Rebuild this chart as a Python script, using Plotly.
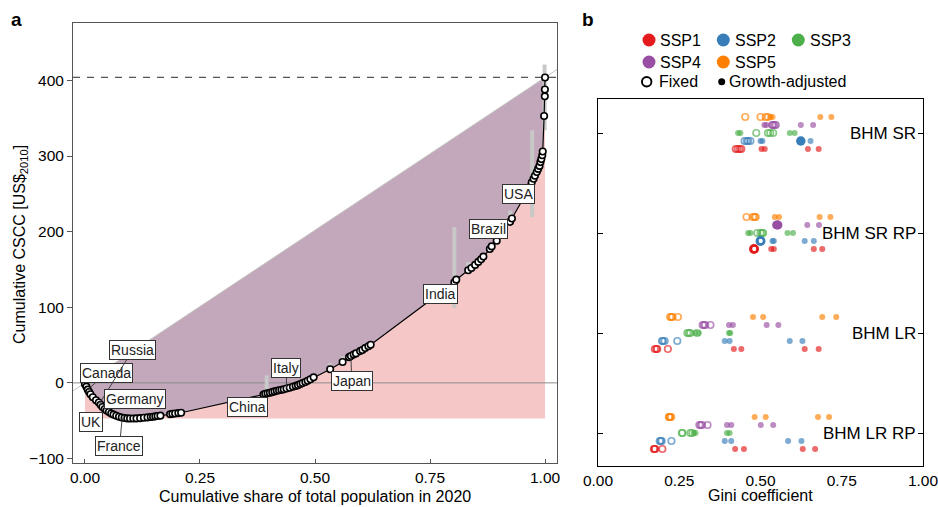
import numpy as np
import plotly.graph_objects as go

FONT = "Liberation Sans, Arial, Helvetica, sans-serif"
W, H = 938, 507

# ---------------- Panel a data ----------------
pop_share = [0.000, 0.003, 0.006, 0.009, 0.012, 0.017, 0.024, 0.030, 0.034, 0.038,
             0.043, 0.047, 0.052, 0.057, 0.062, 0.068, 0.074, 0.080, 0.086, 0.092,
             0.098, 0.105, 0.112, 0.120, 0.128, 0.136, 0.143, 0.148, 0.153, 0.158,
             0.164, 0.185, 0.190, 0.196, 0.203, 0.209,
             0.388, 0.392, 0.397, 0.402, 0.407, 0.412, 0.417, 0.422, 0.427, 0.432,
             0.438, 0.445, 0.452, 0.458, 0.463, 0.468, 0.473, 0.479, 0.484, 0.490,
             0.497, 0.533, 0.560, 0.574, 0.578, 0.584, 0.589, 0.598, 0.603, 0.609,
             0.616, 0.621,
             0.803, 0.807, 0.833, 0.840, 0.848, 0.855, 0.861, 0.866, 0.880, 0.884,
             0.895, 0.924, 0.928, 0.967, 0.971, 0.975, 0.978, 0.982, 0.985, 0.988,
             0.990, 0.992, 0.994, 0.995, 0.998, 0.9995, 0.9997, 1.000]
cum_cscc = [-2, -5, -9, -12, -15, -19, -23, -26, -29, -32,
            -34.5, -36.5, -38.5, -40.5, -42, -43.5, -44.8, -45.8, -46.5, -47,
            -47.2, -47.2, -47, -46.7, -46.2, -45.7, -45.2, -44.8, -44.3, -43.9,
            -43.4, -41.5, -41, -40.5, -40, -39.5,
            -15.5, -14.5, -13.8, -13, -12.2, -11.3, -10.5, -9.8, -9.2, -8.6,
            -7.5, -6.5, -5.2, -4, -3, -1.5, -0.3, 1.2, 2.7, 4.8,
            7.3, 18, 27.5, 34, 35.5, 37.5, 39, 42, 43.5, 46,
            48.5, 50.5,
            133, 136.5, 149, 152, 156, 160, 163.5, 167, 177, 180.5,
            188, 213, 217.5, 259, 265, 270, 274, 279, 283, 287,
            292, 296, 301, 306, 353, 379, 388, 404]

# uncertainty bars (grey)
unc_x = [0.395, 0.533, 0.560, 0.803, 0.833, 0.924, 0.972, 0.999]
unc_lo = [-16, 17, 26, 99, 145, 211, 219, 334]
unc_hi = [10, 26, 35, 206, 160, 228, 334, 421]

# country labels: label-box position and pointed position (None = no leader)
lab_names = ["Canada", "Russia", "Germany", "UK", "France", "China", "Italy", "Japan", "India", "Brazil", "USA"]
lab_box_x = [0.046, 0.104, 0.108, 0.014, 0.075, 0.354, 0.438, 0.580, 0.772, 0.877, 0.942]
lab_box_y = [12.8, 43.6, -21, -52.4, -84, -31.7, 19.4, 2.6, 117, 204, 250]
lab_pt_x = [0.006, 0.032, None, None, 0.081, None, 0.438, 0.578, None, None, None]
lab_pt_y = [-9, -27, None, None, -46, None, -7, 35, None, None, None]

# ---------------- Panel b data ----------------
models = ["BHM SR", "BHM SR RP", "BHM LR", "BHM LR RP"]
model_pos = [4, 3, 2, 1]
ssps = ["SSP1", "SSP2", "SSP3", "SSP4", "SSP5"]
ssp_colors = ["#E41A1C", "#377EB8", "#4DAF4A", "#984EA3", "#FF7F00"]
ssp_offset = [-0.16, -0.08, 0.0, 0.08, 0.16]

# Gini values, per model -> per SSP (SSP1..SSP5)
gini_fixed_sr = [[0.424, 0.430, 0.436, 0.441], [0.451, 0.458, 0.462, 0.469],
                 [0.487, 0.523, 0.530, 0.539], [0.536, 0.539, 0.543, 0.547],
                 [0.453, 0.500, 0.516, 0.523]]
gini_growth_sr = [[0.503, 0.513, 0.646, 0.679], [0.500, 0.506, 0.624, 0.654],
                  [0.431, 0.438, 0.590, 0.605], [0.512, 0.518, 0.624, 0.662],
                  [0.530, 0.537, 0.684, 0.718]]
gini_fixed_srrp = [[0.480, 0.480, 0.481, 0.482], [0.500, 0.500, 0.501, 0.502],
                   [0.490, 0.500, 0.505, 0.508], [0.548, 0.550, 0.552, 0.555],
                   [0.457, 0.477, 0.482, 0.485]]
gini_growth_srrp = [[0.533, 0.541, 0.664, 0.690], [0.537, 0.541, 0.636, 0.664],
                    [0.462, 0.469, 0.583, 0.600], [0.548, 0.556, 0.644, 0.680],
                    [0.544, 0.557, 0.682, 0.715]]
gini_fixed_lr = [[0.175, 0.180, 0.182, 0.215], [0.197, 0.200, 0.205, 0.244],
                 [0.275, 0.280, 0.284, 0.305], [0.322, 0.326, 0.330, 0.346],
                 [0.222, 0.226, 0.229, 0.246]]
gini_growth_lr = [[0.418, 0.441, 0.636, 0.679], [0.390, 0.405, 0.590, 0.629],
                  [0.300, 0.310, 0.403, 0.407], [0.403, 0.415, 0.519, 0.555],
                  [0.477, 0.508, 0.690, 0.733]]
gini_fixed_lrrp = [[0.172, 0.174, 0.176, 0.198], [0.190, 0.193, 0.196, 0.226],
                   [0.258, 0.260, 0.284, 0.290], [0.312, 0.316, 0.320, 0.337],
                   [0.218, 0.220, 0.222, 0.225]]
gini_growth_lrrp = [[0.422, 0.449, 0.630, 0.668], [0.390, 0.410, 0.585, 0.626],
                    [0.294, 0.300, 0.397, 0.405], [0.397, 0.410, 0.501, 0.539],
                    [0.482, 0.516, 0.677, 0.711]]
gini_fixed = [gini_fixed_sr, gini_fixed_srrp, gini_fixed_lr, gini_fixed_lrrp]
gini_growth = [gini_growth_sr, gini_growth_srrp, gini_growth_lr, gini_growth_lrrp]

# highlighted (reference) estimates
hl_model = [0, 1, 1, 1]
hl_ssp = [1, 3, 1, 0]
hl_value = [0.624, 0.552, 0.500, 0.480]
hl_growth = [True, True, False, False]

# ---------------- Build figure ----------------
fig = go.Figure()
xa = np.array(pop_share)
ya = np.array(cum_cscc, dtype=float)
total = ya[-1]
floor = ya.min()
XR = [-0.026, 1.026]
YR = [-106, 476]

common = dict(xaxis="x", yaxis="y", showlegend=False, hoverinfo="skip")
fig.add_trace(go.Scatter(x=xa, y=np.full_like(ya, floor), mode="lines",
                         line=dict(width=0, color="rgba(0,0,0,0)"), **common))
fig.add_trace(go.Scatter(x=xa, y=ya, mode="lines", fill="tonexty",
                         fillcolor="rgb(245,199,199)", line=dict(width=0, color="rgba(0,0,0,0)"), **common))
fig.add_trace(go.Scatter(x=xa, y=total * xa, mode="lines", fill="tonexty",
                         fillcolor="rgb(195,168,188)", line=dict(width=0, color="rgba(0,0,0,0)"), **common))
# equality line
fig.add_trace(go.Scatter(x=XR, y=[total * XR[0], total * XR[1]], mode="lines",
                         line=dict(width=1, color="rgb(195,195,195)"), **common))
# zero line
fig.add_trace(go.Scatter(x=XR, y=[0, 0], mode="lines",
                         line=dict(width=1, color="rgb(140,140,140)"), **common))
# dashed total line
fig.add_trace(go.Scatter(x=XR, y=[total, total], mode="lines",
                         line=dict(width=1.3, color="rgb(85,85,85)", dash="7px,7px"), **common))
# grey uncertainty bars
bx, by = [], []
for x0, lo, hi in zip(unc_x, unc_lo, unc_hi):
    bx += [x0, x0, None]
    by += [lo, hi, None]
fig.add_trace(go.Scatter(x=bx, y=by, mode="lines",
                         line=dict(width=4, color="rgb(200,200,200)"), **common))
# curve
fig.add_trace(go.Scatter(x=xa, y=ya, mode="lines+markers",
                         line=dict(width=1.2, color="black"),
                         marker=dict(size=6.5, color="white", line=dict(width=1.6, color="black")),
                         **common))

annotations = []
for name, bxp, byp, px, py in zip(lab_names, lab_box_x, lab_box_y, lab_pt_x, lab_pt_y):
    base = dict(text=name, font=dict(family=FONT, size=14, color="#222"),
                bgcolor="white", bordercolor="#333", borderwidth=1, borderpad=1,
                xref="x", yref="y")
    if px is None:
        annotations.append(dict(x=bxp, y=byp, showarrow=False, **base))
    else:
        annotations.append(dict(x=px, y=py, ax=bxp, ay=byp, axref="x", ayref="y",
                                showarrow=True, arrowhead=0, arrowwidth=0.9,
                                arrowcolor="#333", standoff=0, **base))

# ---------------- Panel b ----------------
for mi, mpos in enumerate(model_pos):
    for si in range(5):
        yv = mpos + ssp_offset[si]
        fv = gini_fixed[mi][si]
        gv = gini_growth[mi][si]
        fig.add_trace(go.Scatter(x=fv, y=[yv] * len(fv), mode="markers", xaxis="x2", yaxis="y2",
                                 showlegend=False, hoverinfo="skip",
                                 marker=dict(symbol="circle-open", size=6.5, color=ssp_colors[si],
                                             opacity=0.65, line=dict(width=1.7))))
        fig.add_trace(go.Scatter(x=gv, y=[yv] * len(gv), mode="markers", xaxis="x2", yaxis="y2",
                                 showlegend=False, hoverinfo="skip",
                                 marker=dict(symbol="circle", size=6, color=ssp_colors[si],
                                             opacity=0.65, line=dict(width=0))))
for mi, si, v, g in zip(hl_model, hl_ssp, hl_value, hl_growth):
    yv = model_pos[mi] + ssp_offset[si]
    if g:
        mk = dict(symbol="circle", size=9.5, color=ssp_colors[si], line=dict(width=0))
    else:
        mk = dict(symbol="circle-open", size=7.5, color=ssp_colors[si], line=dict(width=2.4))
    fig.add_trace(go.Scatter(x=[v], y=[yv], mode="markers", xaxis="x2", yaxis="y2",
                             showlegend=False, hoverinfo="skip", marker=mk))

# model labels inside panel b, right-aligned against the right-hand ticks
for m, mp in zip(models, model_pos):
    annotations.append(dict(text=m, x=0.985, y=mp, xref="x2", yref="y2", showarrow=False,
                            xanchor="right", yanchor="middle",
                            font=dict(family=FONT, size=17, color="black")))

# ---------------- Manual legend (pixel overlay axis) ----------------
leg_x = [649, 723.3, 798.3, 649, 723.3]
leg_y = [40, 40, 40, 62, 62]
fig.add_trace(go.Scatter(x=leg_x, y=leg_y, mode="markers", xaxis="x3", yaxis="y3",
                         showlegend=False, hoverinfo="skip", cliponaxis=False,
                         marker=dict(size=13, color=ssp_colors)))
fig.add_trace(go.Scatter(x=[646.7], y=[81.7], mode="markers", xaxis="x3", yaxis="y3",
                         showlegend=False, hoverinfo="skip", cliponaxis=False,
                         marker=dict(symbol="circle-open", size=9.5, color="black", line=dict(width=1.9))))
fig.add_trace(go.Scatter(x=[721.7], y=[81.7], mode="markers", xaxis="x3", yaxis="y3",
                         showlegend=False, hoverinfo="skip", cliponaxis=False,
                         marker=dict(symbol="circle", size=7, color="black")))
for t, x0, y0 in zip(ssps + ["Fixed", "Growth-adjusted"],
                     [658, 732.5, 807.5, 658, 732.5, 657, 727],
                     [40, 40, 40, 62, 62, 81.7, 81.7]):
    annotations.append(dict(text=t, x=x0, y=y0, xref="x3", yref="y3", showarrow=False,
                            xanchor="left", yanchor="middle",
                            font=dict(family=FONT, size=16, color="black")))

# titles / panel letters
annotations += [
    dict(text="<b>a</b>", x=16.5, y=19, xref="x3", yref="y3", showarrow=False,
         font=dict(family=FONT, size=19, color="black")),
    dict(text="<b>b</b>", x=588, y=19, xref="x3", yref="y3", showarrow=False,
         font=dict(family=FONT, size=19, color="black")),
    dict(text="Cumulative CSCC [US$<sub>2010</sub>]", x=20, y=245, xref="x3", yref="y3",
         showarrow=False, textangle=-90, font=dict(family=FONT, size=16, color="black")),
    dict(text="Cumulative share of total population in 2020", x=315, y=496, xref="x3", yref="y3",
         showarrow=False, font=dict(family=FONT, size=16, color="black")),
    dict(text="Gini coefficient", x=760.6, y=495, xref="x3", yref="y3",
         showarrow=False, font=dict(family=FONT, size=16, color="black")),
]

tickfont = dict(family=FONT, size=15.5, color="black")
fig.update_layout(
    width=W, height=H, margin=dict(l=0, r=0, t=0, b=0, autoexpand=False),
    paper_bgcolor="white", plot_bgcolor="rgba(0,0,0,0)",
    font=dict(family=FONT, color="black"),
    annotations=annotations,
    xaxis=dict(domain=[73 / W, 557 / W], anchor="y", range=XR, automargin=False,
               tickvals=[0, 0.25, 0.5, 0.75, 1.0], ticktext=["0.00", "0.25", "0.50", "0.75", "1.00"],
               ticks="inside", ticklen=4, tickcolor="#555", showgrid=False, zeroline=False,
               showline=True, linecolor="#555", linewidth=1, mirror=True, tickfont=tickfont,
               ticklabeloverflow="allow"),
    yaxis=dict(domain=[1 - 463 / H, 1 - 23 / H], anchor="x", range=YR, automargin=False,
               tickvals=[-100, 0, 100, 200, 300, 400],
               ticks="outside", ticklen=5, tickcolor="#555", showgrid=False, zeroline=False,
               showline=True, linecolor="#555", linewidth=1, mirror=True, tickfont=tickfont,
               ticklabeloverflow="allow"),
    xaxis2=dict(domain=[598 / W, 923 / W], anchor="y2", range=[0, 1], automargin=False,
                tickvals=[0, 0.25, 0.5, 0.75, 1.0], ticktext=["0.00", "0.25", "0.50", "0.75", "1.00"],
                ticks="", showgrid=False, zeroline=False,
                showline=True, linecolor="black", linewidth=1.2, mirror=True, tickfont=tickfont,
                ticklabeloverflow="allow"),
    yaxis2=dict(domain=[1 - 466 / H, 1 - 99 / H], anchor="x2", range=[0.67, 4.34], automargin=False,
                tickvals=model_pos, showticklabels=False,
                ticks="inside", ticklen=5, tickcolor="black", showgrid=False, zeroline=False,
                showline=True, linecolor="black", linewidth=1.2, mirror="ticks"),
    xaxis3=dict(domain=[0, 1], anchor="y3", range=[0, W], visible=False, fixedrange=True,
                automargin=False),
    yaxis3=dict(domain=[0, 1], anchor="x3", range=[H, 0], visible=False, fixedrange=True,
                automargin=False),
)

fig.write_html("out.html", config={"displayModeBar": False},
               post_script="document.body.style.margin='0';document.body.style.padding='0';")
